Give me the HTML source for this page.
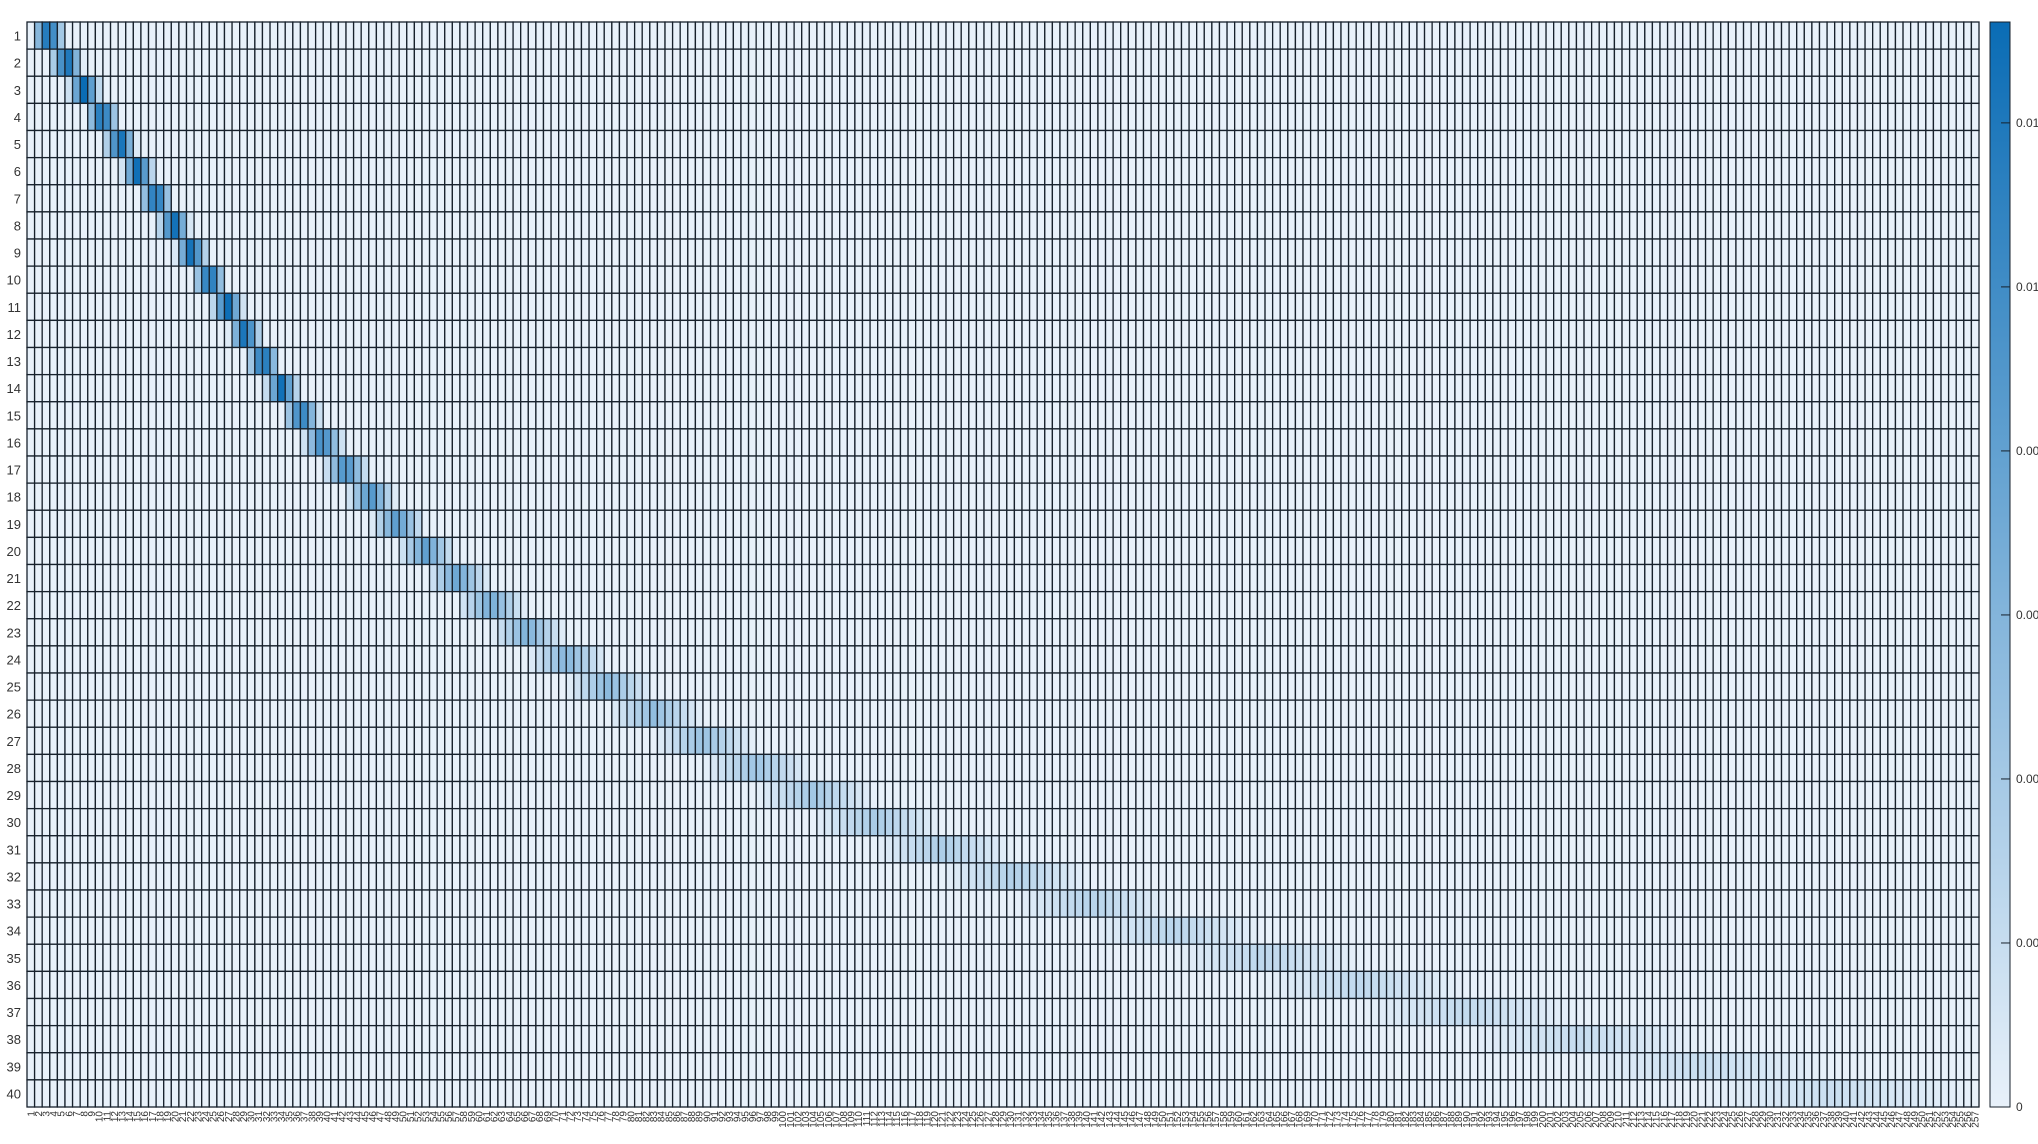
<!DOCTYPE html>
<html><head><meta charset="utf-8"><style>
html,body{margin:0;padding:0;background:#fff;overflow:hidden}
svg{display:block;font-family:"Liberation Sans",sans-serif}
</style></head><body>
<svg id="chart" width="2038" height="1144" viewBox="0 0 2038 1144" xmlns="http://www.w3.org/2000/svg">
<defs><linearGradient id="cbg" x1="0" y1="1" x2="0" y2="0">
<stop offset="0" stop-color="#e8f1fa"/><stop offset="1" stop-color="#0a6cb5"/></linearGradient></defs>
<g id="cells"></g>
<g id="ylabels"></g>
<g id="xlabels"></g>
<g id="cbar"></g>
</svg>
<script>
// Filter edge frequencies (Hz), 42 mel-spaced points
const edgesHz = [0,73.6,147.1,220.7,294.3,367.9,441.4,515.0,588.6,662.2,735.7,809.3,882.9,956.4,1031.4,1112.7,1200.4,1295.0,1397.1,1507.2,1626.0,1754.1,1892.4,2041.5,2202.4,2376.0,2563.3,2765.3,2983.2,3218.3,3472.0,3745.6,4040.8,4359.3,4702.9,5073.5,5473.4,5904.7,6370.1,6872.1,7413.7,8000.0];
const binHz = 31.25;
const nCols = 257;
const colorTicks = [0,0.002,0.004,0.006,0.008,0.010,0.012];
const colorTickLabels = ["0","0.002","0.004","0.006","0.008","0.010","0.012"];
const vmax = 0.01323;

const NS="http://www.w3.org/2000/svg";
const X0=27,X1=1979,Y0=22,Y1=1107;
const nRows = edgesHz.length-2;
const cw=(X1-X0)/nCols, rh=(Y1-Y0)/nRows;
const xs=c=>X0+c*cw, ys=r=>Y0+r*rh;
const cyScale=v=>Y1-(v/vmax)*(Y1-Y0);
function color(v){
  const t=Math.max(0,Math.min(1,v/vmax));
  const a=[232,241,250],b=[10,108,181];
  return `rgb(${a.map((x,i)=>Math.round(x+(b[i]-x)*t)).join(',')})`;
}
function weight(r,k){
  const f=k*binHz,lo=edgesHz[r],ce=edgesHz[r+1],hi=edgesHz[r+2];
  const w=Math.max(0,Math.min((f-lo)/(ce-lo),(hi-f)/(hi-ce)));
  return w*2/(hi-lo);
}
const cells=document.getElementById('cells');
for(let r=0;r<nRows;r++){
  for(let k=0;k<nCols;k++){
    const el=document.createElementNS(NS,'rect');
    
    
    el.setAttribute('x',xs(k));el.setAttribute('y',ys(r));
    el.setAttribute('width',cw);el.setAttribute('height',rh);
    el.setAttribute('fill',color(weight(r,k)));
    el.setAttribute('stroke','#17212c');el.setAttribute('stroke-width','1.3');
    cells.appendChild(el);
  }
}
const yl=document.getElementById('ylabels');
for(let r=0;r<nRows;r++){
  const t=document.createElementNS(NS,'text');
  
  
  t.setAttribute('x',21);t.setAttribute('y',ys(r)+rh/2+5);
  t.setAttribute('text-anchor','end');t.setAttribute('font-size','13');t.setAttribute('fill','#333');
  t.textContent=r+1;yl.appendChild(t);
}
const xl=document.getElementById('xlabels');
for(let k=0;k<nCols;k++){
  const t=document.createElementNS(NS,'text');
  
  
  const x=xs(k)+cw/2+3.5,y=1111;
  t.setAttribute('transform',`translate(${x},${y}) rotate(-90)`);
  t.setAttribute('text-anchor','end');t.setAttribute('font-size','10');t.setAttribute('fill','#333');
  t.textContent=k+1;xl.appendChild(t);
}
const cb=document.getElementById('cbar');
const bar=document.createElementNS(NS,'rect');


bar.setAttribute('x',1990);bar.setAttribute('y',Y0);bar.setAttribute('width',20);bar.setAttribute('height',Y1-Y0);
bar.setAttribute('fill','url(#cbg)');bar.setAttribute('stroke','#17212c');bar.setAttribute('stroke-width','1');
cb.appendChild(bar);
colorTicks.forEach((v,i)=>{
  const y=cyScale(v);
  const ln=document.createElementNS(NS,'line');
  
  
  ln.setAttribute('x1',2001);ln.setAttribute('x2',2010);ln.setAttribute('y1',y);ln.setAttribute('y2',y);
  ln.setAttribute('stroke','#17212c');cb.appendChild(ln);
  const t=document.createElementNS(NS,'text');
  
  
  t.setAttribute('x',2016);t.setAttribute('y',y+4);t.setAttribute('font-size','12');t.setAttribute('fill','#333');
  t.textContent=colorTickLabels[i];cb.appendChild(t);
});
</script>
</body></html>
